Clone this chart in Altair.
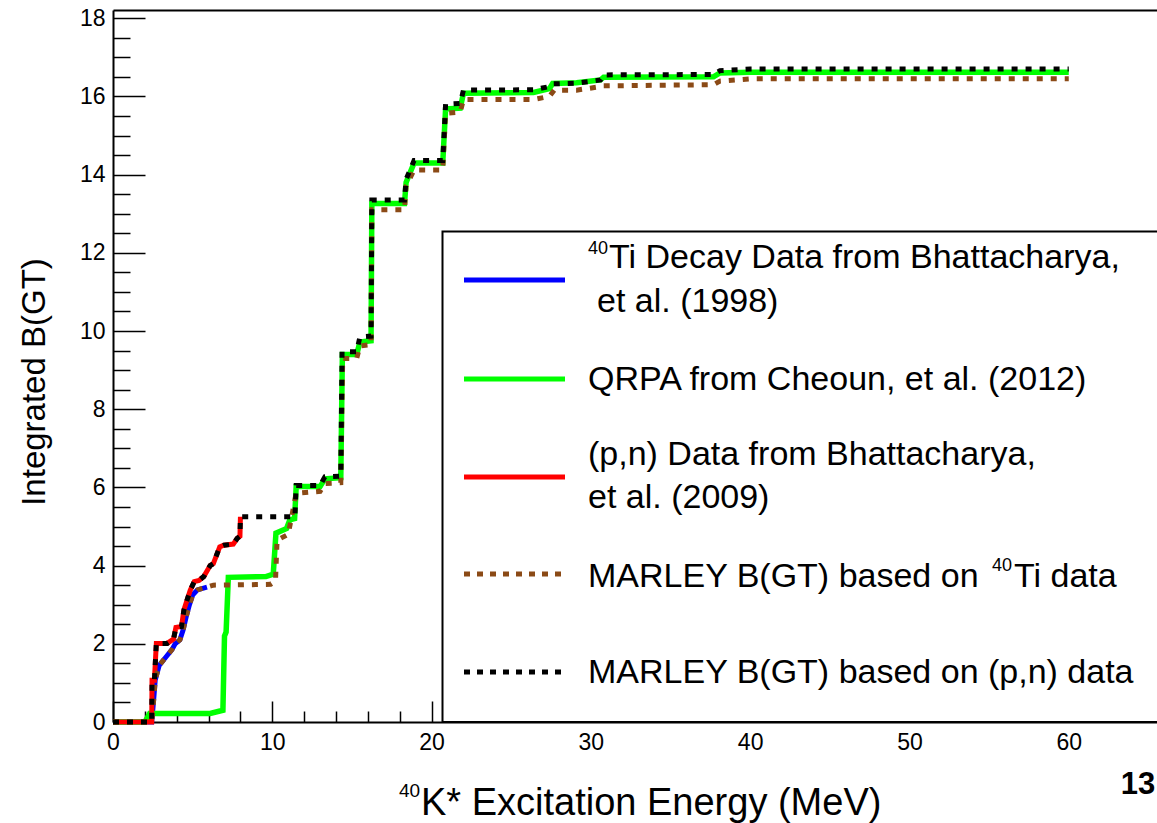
import altair as alt
import pandas as pd

# ---------------- data ----------------
# 40Ti decay data (Bhattacharya et al. 1998)
TI_E = [0, 2.43, 2.55, 2.65, 2.9, 3.3, 3.7, 3.9, 4.2, 4.4, 4.6, 4.8, 5.0, 5.3, 5.9]
TI_B = [0, 0, 0.55, 1.07, 1.45, 1.65, 1.85, 2.0, 2.1, 2.35, 2.7, 3.0, 3.25, 3.38, 3.45]

# QRPA (Cheoun et al. 2012)
QRPA_E = [0, 2.0, 2.3, 6.1, 6.9, 7.0, 7.1, 7.24, 9.6, 10.06, 10.23, 10.9, 11.1, 11.4, 11.5,
          13.0, 13.3, 14.3, 14.4, 15.3, 15.5, 16.2, 16.25, 18.3, 18.4, 18.9, 20.7, 20.88,
          21.8, 22.0, 26.4, 27.4, 27.6, 29.1, 30.6, 30.8, 37.7, 38.1, 40.0, 60.0]
QRPA_B = [0, 0, 0.22, 0.22, 0.3, 2.2, 2.3, 3.7, 3.72, 3.78, 4.83, 4.95, 5.17, 5.2, 6.02,
          6.02, 6.22, 6.25, 9.4, 9.4, 9.72, 9.75, 13.26, 13.26, 13.8, 14.3, 14.3, 15.68,
          15.7, 16.08, 16.1, 16.2, 16.33, 16.35, 16.42, 16.49, 16.5, 16.6, 16.62, 16.62]

# (p,n) data (Bhattacharya et al. 2009)
PN_E = [0, 2.43, 2.45, 2.6, 2.72, 3.4, 3.8, 3.95, 4.3, 4.45, 4.65, 4.85, 5.1, 5.4, 5.7,
        6.1, 6.3, 6.7, 6.95, 7.55, 7.8, 7.97, 8.0]
PN_B = [0, 0, 1.07, 1.07, 2.01, 2.01, 2.12, 2.42, 2.44, 2.86, 3.12, 3.37, 3.59, 3.62, 3.72,
        4.0, 4.05, 4.48, 4.52, 4.55, 4.7, 4.75, 5.25]

# MARLEY B(GT) based on 40Ti data
MTI_E = [0, 2.43, 2.55, 2.65, 2.9, 3.3, 3.7, 3.9, 4.2, 4.4, 4.6, 4.8, 5.0, 5.3, 5.9,
         6.3, 9.9, 10.2, 10.3, 11.0, 11.5, 13.0, 13.3, 14.3, 14.42, 15.3, 15.5, 16.2, 16.25,
         18.3, 18.4, 18.9, 20.7, 20.88, 21.8, 22.0, 26.4, 27.4, 27.7, 29.1, 30.6, 30.8,
         37.7, 38.1, 40.0, 60.0]
MTI_B = [0, 0, 0.55, 1.07, 1.45, 1.65, 1.85, 2.0, 2.1, 2.35, 2.7, 3.0, 3.25, 3.38, 3.45,
         3.5, 3.52, 3.6, 4.65, 4.8, 5.85, 5.9, 6.1, 6.12, 9.3, 9.3, 9.62, 9.65, 13.1,
         13.1, 13.7, 14.12, 14.12, 15.57, 15.6, 15.92, 15.92, 16.0, 16.16, 16.16, 16.25, 16.27,
         16.3, 16.39, 16.45, 16.45]

# MARLEY B(GT) based on (p,n) data
MPN_E = [0, 2.43, 2.45, 2.6, 2.72, 3.4, 3.8, 3.95, 4.3, 4.45, 4.65, 4.85, 5.1, 5.4, 5.7,
         6.1, 6.3, 6.7, 6.95, 7.55, 7.8, 7.97, 8.0,
         11.42, 11.5, 13.0, 13.3, 14.3, 14.38, 15.3, 15.5, 16.2, 16.25, 18.3, 18.4, 18.9,
         20.7, 20.88, 21.8, 22.0, 26.4, 27.4, 27.6, 29.1, 30.6, 30.8, 37.7, 38.1, 40.0, 60.0]
MPN_B = [0, 0, 1.07, 1.07, 2.01, 2.01, 2.12, 2.42, 2.44, 2.86, 3.12, 3.37, 3.59, 3.62, 3.72,
         4.0, 4.05, 4.48, 4.52, 4.55, 4.7, 4.75, 5.25,
         5.25, 6.05, 6.05, 6.27, 6.29, 9.47, 9.47, 9.85, 9.87, 13.35, 13.35, 13.88, 14.36,
         14.36, 15.8, 15.82, 16.16, 16.17, 16.25, 16.32, 16.34, 16.42, 16.55, 16.56, 16.66, 16.7, 16.7]

X_MAJOR = [0, 10, 20, 30, 40, 50, 60]
X_MINOR = [v for v in range(2, 66, 2) if v % 10]
Y_MAJOR = list(range(0, 19, 2))
Y_MINOR = [v / 2 for v in range(1, 37) if v % 4]

# ---------------- layout / style ----------------
W, H = 1044, 712
X_DOMAIN = [0, 65.54]
Y_DOMAIN = [0, 18.21]
FONT = "Liberation Sans"
LEG = 34

xs = alt.Scale(domain=X_DOMAIN, nice=False, zero=False)
ys = alt.Scale(domain=Y_DOMAIN, nice=False, zero=False)


def series_df(E, B):
    return pd.DataFrame({"E": E, "B": B, "i": list(range(len(E)))})


def tick_axis(orient, offset, values, size):
    return alt.Axis(orient=orient, offset=offset, values=values, tickSize=size,
                    tickWidth=1.5, tickColor="black", labels=False, domain=False,
                    title=None, grid=False)


ax_x_bottom = alt.Axis(orient="bottom", values=X_MAJOR, ticks=False, domain=True,
                       domainWidth=2, domainColor="black", labelFontSize=23,
                       labelPadding=9, labelFont=FONT, labelColor="black",
                       labelFlush=False, labelOverlap=False, title=None, grid=False)
ax_y_left = alt.Axis(orient="left", values=Y_MAJOR, ticks=False, domain=True,
                     domainWidth=2, domainColor="black", labelFontSize=23,
                     labelPadding=8, labelFont=FONT, labelColor="black",
                     labelFlush=False, labelOverlap=False, title=None, grid=False)
ax_x_top_frame = alt.Axis(orient="top", values=X_MAJOR, ticks=False, labels=False,
                          domain=True, domainWidth=2, domainColor="black",
                          title=None, grid=False)


def line_layer(E, B, color, xaxis, yaxis, dash=None, width=5):
    kw = dict(color=color, strokeWidth=width, strokeCap="butt", strokeJoin="miter")
    if dash:
        kw["strokeDash"] = dash
    return alt.Chart(series_df(E, B)).mark_line(**kw).encode(
        x=alt.X("E:Q", scale=xs, axis=xaxis),
        y=alt.Y("B:Q", scale=ys, axis=yaxis),
        order="i:Q",
    )


ONE = pd.DataFrame({"k": [0]})


def text_layer(txt, x, y, size, align="left", baseline="alphabetic", angle=None, bold=False):
    kw = dict(text=txt, font=FONT, fontSize=size, align=align, baseline=baseline,
              color="black")
    if angle is not None:
        kw["angle"] = angle
    if bold:
        kw["fontWeight"] = "bold"
    return alt.Chart(ONE).mark_text(**kw).encode(x=alt.value(x), y=alt.value(y))


def legend_sample(color, y, dash=None):
    kw = dict(color=color, strokeWidth=5, strokeCap="butt")
    if dash:
        kw["strokeDash"] = dash
    return alt.Chart(ONE).mark_rule(**kw).encode(
        x=alt.value(351), x2=alt.value(452), y=alt.value(y))


BLUE, GREEN, RED, BROWN, BLACK = "#0000ff", "#00ff00", "#ff0000", "#8b4a16", "#000000"
DOT = [6, 8]

layers = [
    line_layer(TI_E, TI_B, BLUE, ax_x_bottom, ax_y_left),
    line_layer(QRPA_E, QRPA_B, GREEN, tick_axis("top", -H, X_MAJOR, 21),
               tick_axis("right", -W, Y_MAJOR, 32), width=5.5),
    line_layer(PN_E, PN_B, RED, tick_axis("top", -H, X_MINOR, 11),
               tick_axis("right", -W, Y_MINOR, 17)),
    line_layer(MTI_E, MTI_B, BROWN, ax_x_top_frame, None, DOT),
    line_layer(MPN_E, MPN_B, BLACK, None, None, DOT),
    # legend frame
    alt.Chart(ONE).mark_rect(fill="white", stroke="black", strokeWidth=2).encode(
        x=alt.value(329.5), x2=alt.value(1100), y=alt.value(221.5), y2=alt.value(712)),
    legend_sample(BLUE, 270),
    legend_sample(GREEN, 369),
    legend_sample(RED, 467),
    legend_sample(BROWN, 564, [6, 7]),
    legend_sample(BLACK, 662, [6, 7]),
    text_layer("40", 475, 244, 18),
    text_layer("Ti Decay Data from Bhattacharya,", 496, 258, LEG),
    text_layer("et al. (1998)", 484, 302, LEG),
    text_layer("QRPA from Cheoun, et al. (2012)", 475, 380, LEG),
    text_layer("(p,n) Data from Bhattacharya,", 475, 455, LEG),
    text_layer("et al. (2009)", 475, 498, LEG),
    text_layer("MARLEY B(GT) based on", 475, 577, LEG),
    text_layer("40", 879, 561, 18),
    text_layer("Ti data", 901, 577, LEG),
    text_layer("MARLEY B(GT) based on (p,n) data", 475, 673, LEG),
    # axis titles
    text_layer("Integrated B(GT)", -78, 372, 33, align="center", baseline="middle", angle=270),
    text_layer("40", 286, 787, 19),
    text_layer("K* Excitation Energy (MeV)", 308, 805, 38),
    text_layer("13", 1025, 775, 31, align="center", baseline="middle", bold=True),
]

chart = (
    alt.layer(*layers)
    .resolve_axis(x="independent", y="independent")
    .properties(width=W, height=H, autosize=alt.AutoSizeParams(type="none"),
                padding={"left": 113, "top": 10, "right": 0, "bottom": 101})
    .configure_view(stroke=None)
)

chart.save("out.html", embed_options={"renderer": "svg", "actions": False})
